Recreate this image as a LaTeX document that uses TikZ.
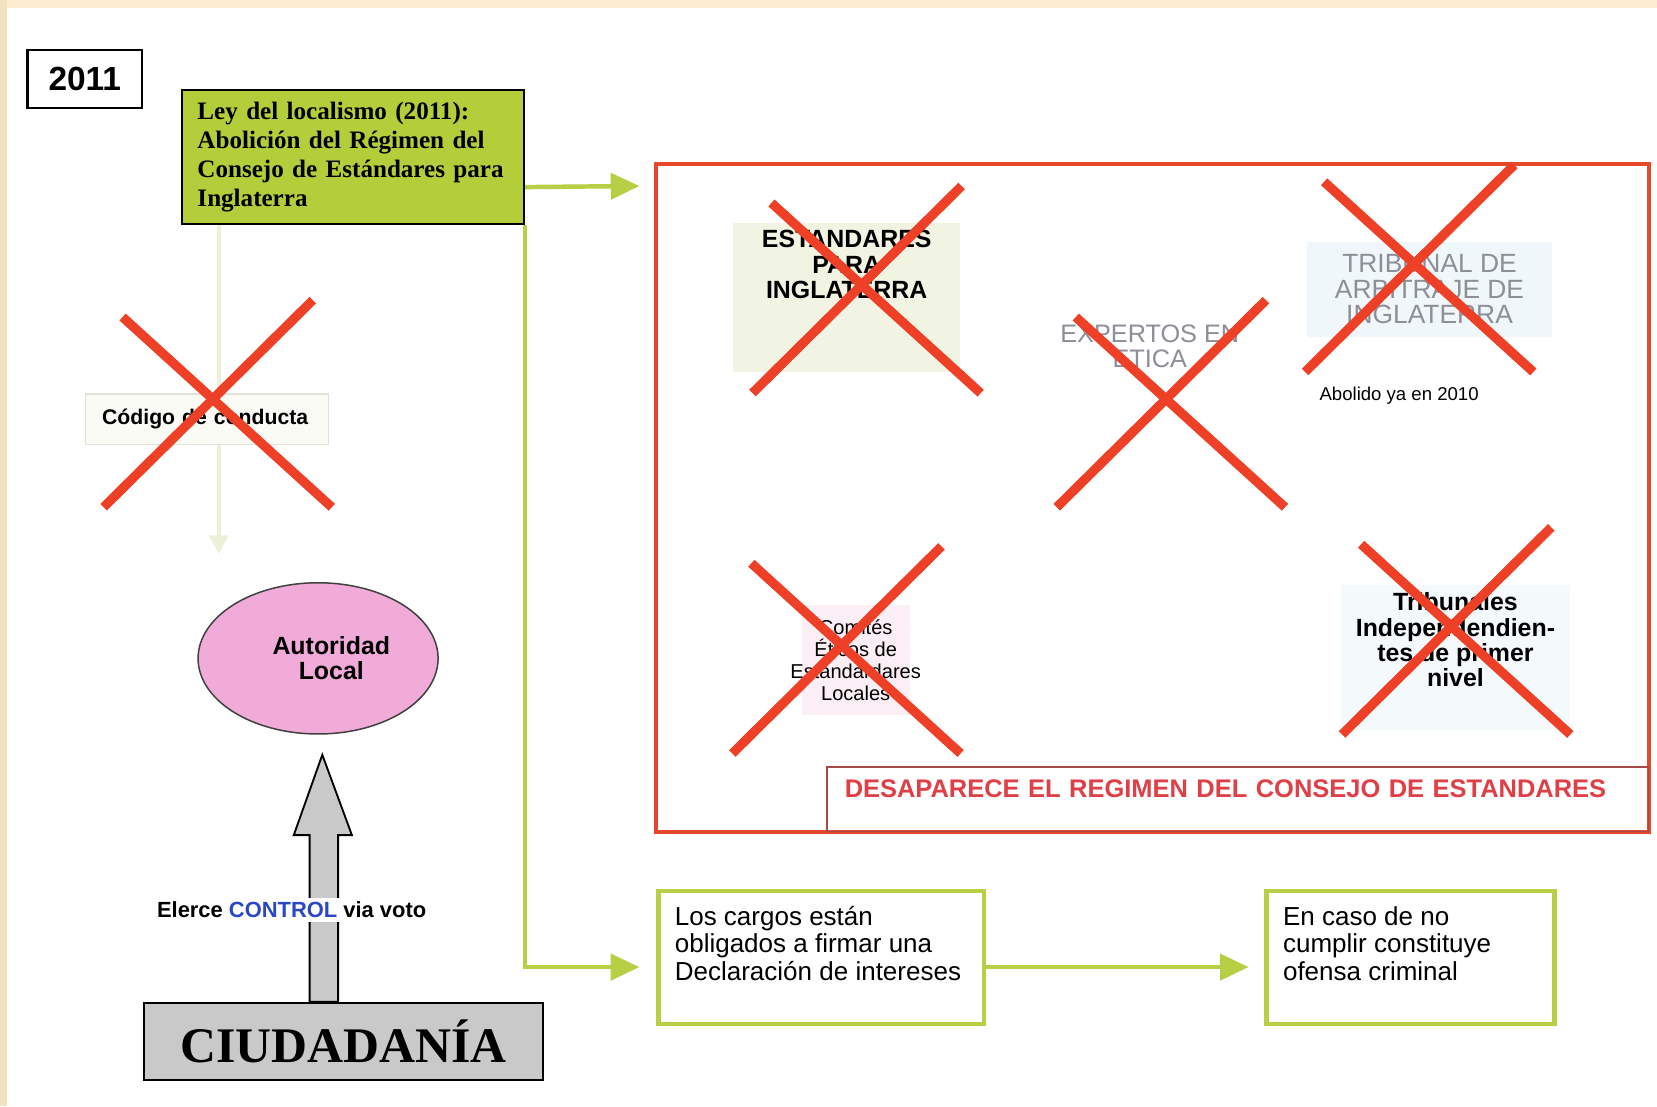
\documentclass[tikz,border=0pt]{standalone}
\usepackage{fontspec}
\setmainfont{Liberation Sans}
\newfontfamily\serifbold{Liberation Serif}
\usepackage{xcolor}
\usetikzlibrary{arrows.meta,calc,positioning,shapes.geometric}
\definecolor{cream}{HTML}{FBEBD0}
\definecolor{sidecream}{HTML}{F1E2C0}
\definecolor{leygreen}{HTML}{B3CD3B}
\definecolor{linkgreen}{HTML}{B6CF45}
\definecolor{fadegreen}{HTML}{ECF0D8}
\definecolor{crossred}{HTML}{EE4026}
\definecolor{framered}{HTML}{E6482C}
\definecolor{bannerred}{HTML}{DF3F47}
\definecolor{bannerline}{HTML}{A84848}
\definecolor{autpink}{HTML}{F1ABD8}
\definecolor{ciudgray}{HTML}{C9C9C9}
\definecolor{ghostgray}{HTML}{8E8E98}
\definecolor{controlblue}{HTML}{2A47C8}
\definecolor{estfill}{HTML}{F1F3E3}
\definecolor{arbfill}{HTML}{EFF7FA}
\definecolor{comfill}{HTML}{FBEEF4}
\definecolor{nivelfill}{HTML}{F4FAFC}
\definecolor{codfill}{HTML}{FBFBF6}
\definecolor{codline}{HTML}{E2E2D6}
\tikzset{%
	yearbox/.style   = {draw, line width=0.7pt, minimum width=1.08cm, minimum height=0.55cm, inner sep=0pt, font=\bfseries\fontsize{9}{9}\selectfont}, % year
	leybox/.style    = {draw, fill=leygreen, line width=0.5pt, minimum height=1.25cm, text width=2.94cm, inner xsep=0.15cm, align=left, font=\serifbold\bfseries\fontsize{6.75}{7.8}\selectfont}, % law
	codbox/.style    = {draw=codline, fill=codfill, line width=0.4pt, minimum height=0.48cm, text width=1.98cm, inner xsep=0.16cm, align=left, font=\bfseries\fontsize{5.7}{5.7}\selectfont},
	autoridad/.style = {ellipse, draw=black!75, fill=autpink, line width=0.4pt, minimum width=2.27cm, minimum height=1.43cm, inner sep=0pt, align=center, font=\bfseries\fontsize{6.7}{6.8}\selectfont},
	ciudbox/.style   = {draw, fill=ciudgray, line width=0.5pt, minimum width=3.78cm, minimum height=0.73cm, inner sep=0pt, font=\serifbold\bfseries\fontsize{13.4}{13.4}\selectfont},
	blockarrow/.style = {draw, fill=ciudgray, line width=0.5pt},
	votolabel/.style = {fill=white, inner sep=1pt, font=\bfseries\fontsize{5.9}{5.9}\selectfont},
	redframe/.style  = {draw=framered, line width=1.2pt, outer sep=0pt, minimum width=9.39cm, minimum height=6.32cm},
	banner/.style    = {draw=bannerline, line width=0.4pt, minimum width=7.77cm, minimum height=0.54cm, text width=7.43cm, inner xsep=0.17cm, align=left, text height=4.9pt, text depth=5.7pt, text=bannerred, font=\bfseries\fontsize{6.85}{6.85}\selectfont},
	topstack/.style  = {anchor=north, align=center, inner sep=0pt, yshift=-2.1pt, font=\bfseries\fontsize{6.7}{6.8}\selectfont},
	estbox/.style    = {fill=estfill, minimum width=2.15cm, minimum height=1.41cm},
	ghosttext/.style = {text=ghostgray, align=center, inner sep=0pt, font=\fontsize{6.8}{6.8}\selectfont},
	arbbox/.style    = {fill=arbfill, minimum width=2.32cm, minimum height=0.90cm, inner sep=0pt, text=ghostgray, align=center, font=\fontsize{7.1}{6.8}\selectfont},
	abolido/.style   = {inner sep=0pt, font=\fontsize{5}{5}\selectfont},
	combox/.style    = {fill=comfill, minimum width=1.02cm, minimum height=1.04cm, inner xsep=-0.11cm, align=center, font=\fontsize{5.4}{6}\selectfont},
	nivelbox/.style  = {fill=nivelfill, minimum width=2.17cm, minimum height=1.37cm},
	declbox/.style   = {draw=linkgreen, line width=1.2pt, minimum height=1.26cm},
	decltext/.style  = {anchor=north west, align=left, inner sep=0pt, xshift=4.8pt, yshift=-4.5pt, font=\fontsize{7}{7.4}\selectfont},
	linkarrow/.style = {draw=linkgreen, line width=1.2pt, -{Triangle[length=7.7pt,width=7pt]}},
	fadedarrow/.style = {draw=fadegreen, line width=1pt, -{Triangle[length=5pt,width=5pt]}},
	cross/.style     = {draw=crossred, line width=2.5pt},
}
\begin{document}
\begin{tikzpicture}[x=0.01cm, y=-0.01cm]
	\useasboundingbox (0,0) rectangle (1568,1047);
	\fill[white] (0,0) rectangle (1568,1047);
	\fill[cream] (0,0) rectangle (1568,8);
	\fill[sidecream] (0,0) rectangle (7,1047);
	
	% left column
	\node[yearbox, anchor=north west] (year) at (25,46) {2011};
	\node[leybox, anchor=north west] (ley) at (171,84) {Ley del localismo (2011):\\Abolición del Régimen del\\Consejo de Estándares para\\Inglaterra};
	\draw[fadedarrow] ($(ley.south west)+(36,0)$) -- ($(ley.south west)+(36,311)$);
	\node[codbox, anchor=north west] (codigo) at (80,372) {Código de conducta};
	\node[autoridad] (aut) at (301,623) {\hspace*{0.25cm}Autoridad\\\hspace*{0.25cm}Local};
	\node[ciudbox, anchor=north west] (ciud) at (135,948) {CIUDADANÍA};
	\coordinate (tip) at ($(aut.south)+(4,19)$);
	\draw[blockarrow] (tip) -- ++(28,76) -- ++(-13,0) -- ($(tip |- ciud.north)+(15,0)$) -- ($(tip |- ciud.north)+(-12,0)$) -- ($(tip)+(-12,76)$) -- ($(tip)+(-27,76)$) -- cycle;
	\node[votolabel] (voto) at ($(tip |- ciud.north)+(-29,-87)$) {Elerce \textcolor{controlblue}{CONTROL} via voto};
	
	% abolished bodies
	\node[redframe, anchor=north west] (marco) at (621,155) {};
	\node[banner, anchor=south east] (banner) at (marco.south east) {DESAPARECE EL REGIMEN DEL CONSEJO DE ESTANDARES};
	\node[estbox, anchor=north west, label={[topstack]north:ESTANDARES\\PARA\\INGLATERRA}] (estandares) at (693,210) {};
	\node[ghosttext] (expertos) at (1088,328) {EXPERTOS EN\\ETICA};
	\node[arbbox, anchor=north west] (arbitraje) at (1236,228) {TRIBUNAL DE\\ARBITRAJE DE\\INGLATERRA};
	\node[abolido, anchor=north west] (abolido) at ($(arbitraje.south west)+(12,46)$) {Abolido ya en 2010};
	\node[combox, anchor=north west] (comites) at (758,572) {Comités\\Éticos de\\Estandardares\\Locales};
	\node[nivelbox, anchor=north west, label={[topstack]north:Tribunales\\Independendien-\\tes de primer\\nivel}] (nivel) at (1268,553) {};
	
	\foreach \a/\b in {98/480, 712/372, 1000/480, 1235/352, 693/713, 1270/695} {
		\draw[cross] (\a+18,\b-180) -- (\a+216,\b);
		\draw[cross] (\a,\b) -- (\a+198,\b-196);
	}
	
	% declaration
	\node[declbox, minimum width=3.08cm, anchor=north west, label={[decltext]north west:Los cargos están\\obligados a firmar una\\Declaración de intereses}] (decl) at (621,841) {};
	\node[declbox, minimum width=2.72cm, right=2.63cm of decl, label={[decltext]north west:En caso de no\\cumplir constituye\\ofensa criminal}] (crim) {};
	
	\draw[linkarrow] ($(ley.north east)!0.72!(ley.south east)$) -- ($(marco.north west)+(-16,21)$);
	\draw[linkarrow] (ley.south east) |- ($(decl.west)+(-16,9)$);
	\draw[linkarrow] ($(decl.east)+(0,9)$) -- ($(crim.west)+(-15,9)$);
\end{tikzpicture}
\end{document}
